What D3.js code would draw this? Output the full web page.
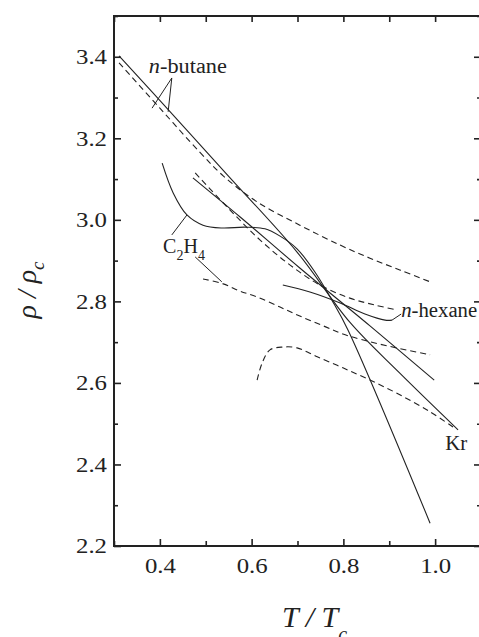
<!DOCTYPE html>
<html>
<head>
<meta charset="utf-8">
<script src="https://cdn.jsdelivr.net/npm/d3@7"></script>
<style>
  body { margin: 0; background: #fff; }
  svg { display: block; }
  svg text { font-family: "Liberation Serif", Tinos, "Times New Roman", "DejaVu Serif", serif; fill: #222; }
</style>
</head>
<body>
<div id="chart"></div>
<script>
var serif = "'Liberation Serif', Tinos, 'Times New Roman', 'DejaVu Serif', serif";

// axis ticks
var xMajor = [0.4, 0.6, 0.8, 1.0];
var xMinor = [0.3, 0.5, 0.7, 0.9, 1.1];
var yMajor = [2.2, 2.4, 2.6, 2.8, 3.0, 3.2, 3.4];
var yMinor = [2.3, 2.5, 2.7, 2.9, 3.1, 3.3, 3.5];

// solid curves
var butaneSolidT = [0.311, 0.433, 0.549, 0.699, 0.814, 0.923, 1.050];
var butaneSolidR = [3.402, 3.252, 3.108, 2.921, 2.749, 2.624, 2.485];
var ethyleneSolidT = [0.405, 0.429, 0.459, 0.494, 0.535, 0.586, 0.629, 0.662, 0.699, 0.738, 0.775, 0.810, 0.989];
var ethyleneSolidR = [3.139, 3.066, 3.012, 2.987, 2.980, 2.982, 2.978, 2.960, 2.929, 2.872, 2.803, 2.730, 2.256];
var kryptonSolidT = [0.472, 0.575, 0.705, 0.858, 0.998];
var kryptonSolidR = [3.103, 3.007, 2.882, 2.740, 2.607];
var hexaneSolidT = [0.668, 0.727, 0.793, 0.847, 0.891, 0.906];
var hexaneSolidR = [2.840, 2.823, 2.796, 2.769, 2.754, 2.754];

// dashed curves
var butaneDashT = [0.311, 0.400, 0.487, 0.538, 0.612, 0.705, 0.793, 0.858, 0.923, 0.989];
var butaneDashR = [3.385, 3.274, 3.166, 3.108, 3.044, 2.987, 2.938, 2.906, 2.877, 2.848];
var hexaneDashT = [0.477, 0.553, 0.618, 0.684, 0.749, 0.814, 0.869, 0.917];
var hexaneDashR = [3.115, 3.024, 2.951, 2.889, 2.840, 2.808, 2.791, 2.779];
var ethyleneDashT = [0.494, 0.538, 0.575, 0.612, 0.662, 0.705, 0.756, 0.804, 0.880, 0.989];
var ethyleneDashR = [2.855, 2.843, 2.825, 2.811, 2.786, 2.764, 2.740, 2.718, 2.695, 2.669];
var kryptonDashT = [0.612, 0.623, 0.640, 0.668, 0.699, 0.743, 0.799, 0.858, 0.923, 0.989, 1.039];
var kryptonDashR = [2.607, 2.649, 2.681, 2.688, 2.686, 2.664, 2.637, 2.607, 2.571, 2.529, 2.492];

// label leader lines [[t1, r1], [t2, r2]]
var leaders = [
  [[0.426, 3.348], [0.383, 3.274]],
  [[0.426, 3.348], [0.418, 3.265]],
  [[0.459, 3.012], [0.426, 2.963]],
  [[0.477, 2.909], [0.535, 2.848]],
  [[0.906, 2.754], [0.926, 2.769]]
];

var margin = { left: 114, top: 16 };
var width = 367, height = 530;

var svg = d3.select("#chart").append("svg")
  .attr("width", 479)
  .attr("height", 637)
  .attr("font-family", serif);

var g = svg.append("g")
  .attr("transform", "translate(" + margin.left + "," + margin.top + ")");

var x = d3.scaleLinear().domain([0.3, 1.1]).range([0, width]);
var y = d3.scaleLinear().domain([2.2, 3.5]).range([height, 0]);

function zipPts(ts, rs) {
  return ts.map(function (t, i) { return [t, rs[i]]; });
}

var line = d3.line()
  .x(function (d) { return x(d[0]); })
  .y(function (d) { return y(d[1]); })
  .curve(d3.curveCatmullRom.alpha(0.5));

var solids = [
  zipPts(butaneSolidT, butaneSolidR),
  zipPts(ethyleneSolidT, ethyleneSolidR),
  zipPts(kryptonSolidT, kryptonSolidR),
  zipPts(hexaneSolidT, hexaneSolidR)
];
var dashes = [
  zipPts(butaneDashT, butaneDashR),
  zipPts(hexaneDashT, hexaneDashR),
  zipPts(ethyleneDashT, ethyleneDashR),
  zipPts(kryptonDashT, kryptonDashR)
];

g.selectAll(".solid").data(solids).enter().append("path")
  .attr("class", "solid")
  .attr("d", line)
  .attr("fill", "none")
  .attr("stroke", "#222")
  .attr("stroke-width", 1.1);

g.selectAll(".dash").data(dashes).enter().append("path")
  .attr("class", "dash")
  .attr("d", line)
  .attr("fill", "none")
  .attr("stroke", "#222")
  .attr("stroke-width", 1.1)
  .attr("stroke-dasharray", "6,4");

g.selectAll(".leader").data(leaders).enter().append("line")
  .attr("x1", function (d) { return x(d[0][0]); })
  .attr("y1", function (d) { return y(d[0][1]); })
  .attr("x2", function (d) { return x(d[1][0]); })
  .attr("y2", function (d) { return y(d[1][1]); })
  .attr("stroke", "#222")
  .attr("stroke-width", 1);

// axes, ticks pointing inward
function styleAxis(sel) {
  sel.attr("font-family", serif).attr("font-size", 21);
  sel.select(".domain").remove();
  sel.selectAll(".tick line").attr("stroke", "#222").attr("stroke-width", 1.6);
  sel.selectAll(".tick text")
    .attr("fill", "#222")
    .attr("textLength", 31)
    .attr("lengthAdjust", "spacingAndGlyphs");
}

g.append("g").attr("transform", "translate(0," + height + ")")
  .call(d3.axisBottom(x).tickValues(xMajor).tickSize(-7).tickPadding(12).tickFormat(d3.format(".1f")))
  .call(styleAxis);
g.append("g").attr("transform", "translate(0," + height + ")")
  .call(d3.axisBottom(x).tickValues(xMinor).tickSize(-5).tickFormat(""))
  .call(styleAxis);
g.append("g")
  .call(d3.axisTop(x).tickValues(xMajor.concat(xMinor)).tickSize(-6).tickFormat(""))
  .call(styleAxis);

g.append("g")
  .call(d3.axisLeft(y).tickValues(yMajor).tickSize(-7).tickPadding(7).tickFormat(d3.format(".1f")))
  .call(styleAxis);
g.append("g")
  .call(d3.axisLeft(y).tickValues(yMinor).tickSize(-4).tickFormat(""))
  .call(styleAxis);
g.append("g").attr("transform", "translate(" + width + ",0)")
  .call(d3.axisRight(y).tickValues(yMajor).tickSize(-7).tickFormat(""))
  .call(styleAxis);
g.append("g").attr("transform", "translate(" + width + ",0)")
  .call(d3.axisRight(y).tickValues(yMinor).tickSize(-4).tickFormat(""))
  .call(styleAxis);

// frame
g.append("rect")
  .attr("width", width).attr("height", height)
  .attr("fill", "none")
  .attr("stroke", "#222")
  .attr("stroke-width", 2);

// curve labels (slightly wide lettering, as in the original)
var lab = g.append("g").attr("font-size", 20);
var nb = lab.append("text").attr("x", x(0.376)).attr("y", y(3.360))
  .attr("textLength", 78).attr("lengthAdjust", "spacingAndGlyphs");
nb.append("tspan").style("font-style", "italic").text("n");
nb.append("tspan").text("-butane");

var c2 = lab.append("text").attr("x", x(0.407)).attr("y", y(2.919));
c2.append("tspan").text("C");
c2.append("tspan").attr("dy", 7).attr("font-size", 14).text("2");
c2.append("tspan").attr("dy", -7).text("H");
c2.append("tspan").attr("dy", 7).attr("font-size", 14).text("4");

var nh = lab.append("text").attr("x", x(0.926)).attr("y", y(2.762))
  .attr("textLength", 76).attr("lengthAdjust", "spacingAndGlyphs");
nh.append("tspan").style("font-style", "italic").text("n");
nh.append("tspan").text("-hexane");

lab.append("text").attr("x", x(1.022)).attr("y", y(2.436))
  .attr("textLength", 22).attr("lengthAdjust", "spacingAndGlyphs").text("Kr");

// axis titles
var xt = svg.append("text")
  .attr("x", 282).attr("y", 627)
  .attr("font-size", 30)
  .style("font-style", "italic");
xt.append("tspan").text("T / T");
xt.append("tspan").attr("dy", 14).attr("font-size", 20).text("c");

var yt = svg.append("text")
  .attr("transform", "translate(36,290) rotate(-90)")
  .attr("text-anchor", "middle")
  .attr("font-size", 28)
  .style("font-style", "italic");
yt.append("tspan").text("\u03C1 / \u03C1");
yt.append("tspan").attr("dy", 8).attr("font-size", 19).text("c");
</script>
</body>
</html>
